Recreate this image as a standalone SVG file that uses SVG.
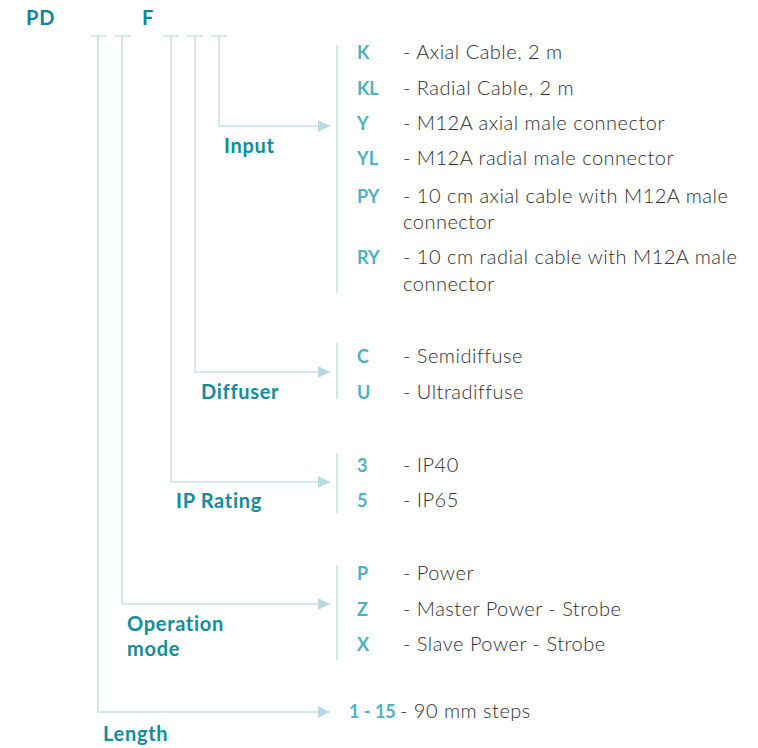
<svg xmlns="http://www.w3.org/2000/svg" width="758" height="748" viewBox="0 0 758 748">
<defs>
<style>
.bg{fill:#ffffff}
.ln{fill:none;stroke:#c3e2e7;stroke-width:1.5}
.hd{font-family:"Lato","Liberation Sans",sans-serif;font-weight:700;font-size:20px;letter-spacing:0.8px;fill:#0b8793}
.lb{font-family:"Lato","Liberation Sans",sans-serif;font-weight:700;font-size:20px;letter-spacing:0.7px;fill:#0f8d9a}
.cd{font-family:"Lato","Liberation Sans",sans-serif;font-weight:700;font-size:18px;fill:#4db2bf}
.ds{font-family:"Lato","Liberation Sans",sans-serif;font-weight:300;font-size:20px;letter-spacing:0.5px;fill:#2e2e2e}
</style>
<marker id="ah" viewBox="0 0 10 10" refX="10" refY="5" markerWidth="16" markerHeight="12" markerUnits="userSpaceOnUse" orient="auto">
<path d="M0,0 L10,5 L0,10 Z" fill="#b6dce2"/>
</marker>
</defs>
<rect class="bg" x="0" y="0" width="758" height="748"/>
<g id="header">
<text class="hd" x="26" y="25">PD</text>
<text class="hd" x="142" y="25">F</text>
</g>
<g id="connectors">
<path class="ln" d="M91,36 H106 M115,36 H131 M163,36 H179 M187,36 H203 M211,36 H227"/>
<path class="ln" d="M219,36 V126 H330" marker-end="url(#ah)"/>
<path class="ln" d="M195,36 V372 H330" marker-end="url(#ah)"/>
<path class="ln" d="M171,36 V482 H330" marker-end="url(#ah)"/>
<path class="ln" d="M122,36 V604 H330" marker-end="url(#ah)"/>
<path class="ln" d="M98,36 V712 H330" marker-end="url(#ah)"/>
<path class="ln" d="M337,45 V293 M337,343 V399 M337,453 V513 M337,565 V660"/>
</g>
<g id="input">
<text class="lb" x="224" y="153">Input</text>
<text class="cd" x="357" y="59">K</text><text class="ds" x="403" y="59">- Axial Cable, 2 m</text>
<text class="cd" x="357" y="95">KL</text><text class="ds" x="403" y="95">- Radial Cable, 2 m</text>
<text class="cd" x="357" y="130">Y</text><text class="ds" x="403" y="130">- M12A axial male connector</text>
<text class="cd" x="357" y="165">YL</text><text class="ds" x="403" y="165">- M12A radial male connector</text>
<text class="cd" x="357" y="203">PY</text><text class="ds" x="403" y="203">- 10 cm axial cable with M12A male</text>
<text class="ds" x="403" y="229">connector</text>
<text class="cd" x="357" y="264">RY</text><text class="ds" x="403" y="264">- 10 cm radial cable with M12A male</text>
<text class="ds" x="403" y="291">connector</text>
</g>
<g id="diffuser">
<text class="lb" x="201" y="399">Diffuser</text>
<text class="cd" x="357" y="363">C</text><text class="ds" x="403" y="363">- Semidiffuse</text>
<text class="cd" x="357" y="399">U</text><text class="ds" x="403" y="399">- Ultradiffuse</text>
</g>
<g id="ip-rating">
<text class="lb" x="176" y="508">IP Rating</text>
<text class="cd" x="357" y="472">3</text><text class="ds" x="403" y="472">- IP40</text>
<text class="cd" x="357" y="507">5</text><text class="ds" x="403" y="507">- IP65</text>
</g>
<g id="operation-mode">
<text class="lb" x="127" y="631">Operation</text>
<text class="lb" x="127" y="656">mode</text>
<text class="cd" x="357" y="580">P</text><text class="ds" x="403" y="580">- Power</text>
<text class="cd" x="357" y="616">Z</text><text class="ds" x="403" y="616">- Master Power - Strobe</text>
<text class="cd" x="357" y="651">X</text><text class="ds" x="403" y="651">- Slave Power - Strobe</text>
</g>
<g id="length">
<text class="lb" x="103" y="741">Length</text>
<text class="cd" x="349" y="718">1 - 15</text><text class="ds" x="400" y="718">- 90 mm steps</text>
</g>
</svg>
